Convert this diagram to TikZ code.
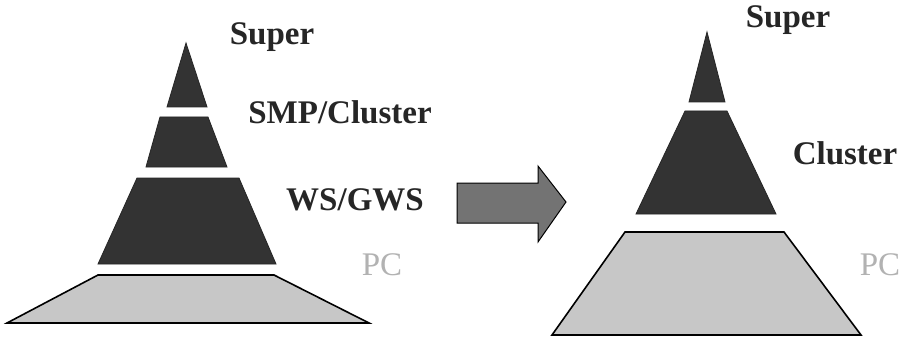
\documentclass[tikz,border=0pt]{standalone}
\usepackage{fontspec}
\setmainfont{Liberation Serif}
\begin{document}
\begin{tikzpicture}[x=1pt,y=-1pt,
  tier/.style={fill=black!80,draw=black!85,line width=0.8pt,line join=miter},
  base/.style={fill=black!22,draw=black,line width=1.6pt,line join=miter},
  lbl/.style={font=\fontsize{33}{36}\selectfont\bfseries,text=black!85,inner sep=0pt},
  pclbl/.style={font=\fontsize{33}{36}\selectfont,text=black!30,inner sep=0pt},
  bigarrow/.style={fill=black!55,draw=black,line width=1pt,line join=miter}]
  \useasboundingbox[fill=white] (0,0) rectangle (906,337);

  % left pyramid: four tiers
  \path[tier] (186,43) -- (207,107) -- (167,107) -- cycle;
  \path[tier] (160,117) -- (208,117) -- (227,167) -- (146,167) -- cycle;
  \path[tier] (137,178) -- (239,178) -- (276,264) -- (98,264) -- cycle;
  \path[base] (98,275) -- (274,275) -- (369,323) -- (7,323) -- cycle;

  \node[lbl] (lsuper) at (272,37) {Super};
  \node[lbl] (lsmp) at (340,112) {SMP/Cluster};
  \node[lbl] (lws) at (355,200) {WS/GWS};
  \node[pclbl] (lpc) at (382,265) {PC};

  % block arrow between the pyramids
  \path[bigarrow] (457,183) -- (538,183) -- (538,166) -- (566,202)
    -- (538,242) -- (538,223) -- (457,223) -- cycle;

  % right pyramid: three tiers
  \path[tier] (707,32) -- (725,102) -- (689,102) -- cycle;
  \path[tier] (685,111) -- (727,111) -- (776,214) -- (636,214) -- cycle;
  \path[base] (625,232) -- (784,232) -- (861,335) -- (552,335) -- cycle;

  \node[lbl] (rsuper) at (788,20) {Super};
  \node[lbl] (rcluster) at (845,153) {Cluster};
  \node[pclbl] (rpc) at (880,265) {PC};
\end{tikzpicture}
\end{document}
